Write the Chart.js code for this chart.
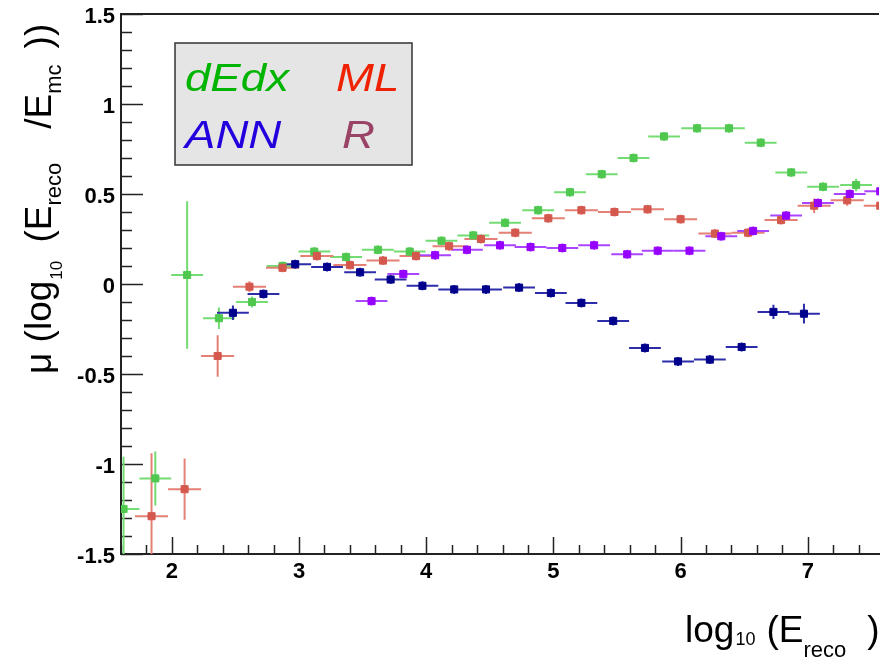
<!DOCTYPE html>
<html>
<head>
<meta charset="utf-8">
<script src="https://cdn.jsdelivr.net/npm/chart.js@4"></script>
<style>
  html, body { margin: 0; padding: 0; background: #fff; }
  canvas { display: block; }
</style>
</head>
<body>
<canvas id="muChart" width="885" height="657"></canvas>
<script>
const FONT = '"Liberation Sans", Arial, Helvetica, sans-serif';

// bin centres (log10 E_reco) and mean of log10(E_reco/E_mc) per estimator
const dedxX = [1.62, 1.87, 2.12, 2.37, 2.63, 2.87, 3.12, 3.37, 3.62, 3.87, 4.12, 4.37,
               4.62, 4.88, 5.13, 5.38, 5.63, 5.87, 6.13, 6.38, 6.63, 6.87, 7.12, 7.38];
const dedxY = [-1.25, -1.08, 0.05, -0.19, -0.10, 0.10, 0.18, 0.15, 0.19, 0.18, 0.24, 0.27,
               0.34, 0.41, 0.51, 0.61, 0.70, 0.82, 0.865, 0.865, 0.785, 0.62, 0.54, 0.55];
const dedxErr = [0.29, 0.15, 0.41, 0.06, 0.03, 0.025, 0.025, 0.025, 0.025, 0.025, 0.025, 0.025,
                 0.025, 0.025, 0.025, 0.025, 0.025, 0.025, 0.025, 0.025, 0.025, 0.025, 0.025, 0.035];

const mlX = [1.84, 2.10, 2.36, 2.61, 2.87, 3.14, 3.40, 3.66, 3.92, 4.18, 4.43, 4.70,
             4.96, 5.22, 5.48, 5.74, 6.00, 6.27, 6.53, 6.79, 7.05, 7.31, 7.57];
const mlY = [-1.29, -1.14, -0.40, -0.015, 0.09, 0.155, 0.105, 0.13, 0.155, 0.21, 0.25, 0.285,
             0.365, 0.41, 0.40, 0.415, 0.36, 0.28, 0.285, 0.355, 0.435, 0.465, 0.435];
const mlErr = [0.35, 0.17, 0.115, 0.03, 0.025, 0.025, 0.025, 0.025, 0.025, 0.025, 0.025, 0.025,
               0.025, 0.025, 0.025, 0.025, 0.025, 0.025, 0.025, 0.025, 0.04, 0.03, 0.03];

const annX = [2.48, 2.72, 2.97, 3.22, 3.48, 3.72, 3.97, 4.22, 4.47, 4.73, 4.98, 5.22,
              5.47, 5.72, 5.98, 6.23, 6.48, 6.73, 6.97];
const annY = [-0.16, -0.055, 0.11, 0.095, 0.065, 0.025, -0.01, -0.03, -0.03, -0.02, -0.05, -0.105,
              -0.205, -0.355, -0.43, -0.42, -0.35, -0.155, -0.165];
const annErr = [0.04, 0.025, 0.025, 0.025, 0.025, 0.025, 0.025, 0.025, 0.025, 0.025, 0.025, 0.025,
                0.025, 0.025, 0.025, 0.025, 0.025, 0.04, 0.055];

const rX = [3.57, 3.82, 4.07, 4.32, 4.58, 4.82, 5.07, 5.32, 5.58, 5.82, 6.07, 6.32,
            6.57, 6.83, 7.08, 7.33, 7.57];
const rY = [-0.095, 0.055, 0.16, 0.19, 0.215, 0.205, 0.20, 0.215, 0.165, 0.185, 0.185, 0.265,
            0.295, 0.38, 0.45, 0.50, 0.515];
const rErr = [0.025, 0.025, 0.025, 0.025, 0.025, 0.025, 0.025, 0.025, 0.025, 0.025, 0.025, 0.025,
              0.025, 0.025, 0.025, 0.025, 0.025];

const xTickValues = [2, 3, 4, 5, 6, 7];
const xTickLabels = ['2', '3', '4', '5', '6', '7'];
const yTickValues = [-1.5, -1, -0.5, 0, 0.5, 1, 1.5];
const yTickLabels = ['-1.5', '-1', '-0.5', '0', '0.5', '1', '1.5'];

const points = (xs, ys) => xs.map((x, i) => ({ x: x, y: ys[i] }));

function series(label, xs, ys, errs, halfWidth, marker, bar, legendColor, order) {
  return {
    label: label,
    data: points(xs, ys),
    yErr: errs,
    xErr: halfWidth,
    barColor: bar,
    legendColor: legendColor,
    backgroundColor: marker,
    borderColor: marker,
    pointStyle: "rect",
    pointRadius: 5,
    pointBorderWidth: 1,
    showLine: false,
    order: order,
  };
}

// horizontal = bin width, vertical = uncertainty on the mean
const errorBars = {
  id: "errorBars",
  beforeDatasetsDraw(chart) {
    const { ctx, chartArea: a, scales: { x, y } } = chart;
    ctx.save();
    ctx.beginPath();
    ctx.rect(a.left, a.top, a.right - a.left, a.bottom - a.top);
    ctx.clip();
    ctx.lineWidth = 2;
    chart.data.datasets.forEach((ds) => {
      ctx.strokeStyle = ds.barColor;
      ds.data.forEach((p, i) => {
        const px = x.getPixelForValue(p.x);
        const py = y.getPixelForValue(p.y);
        ctx.beginPath();
        ctx.moveTo(x.getPixelForValue(p.x - ds.xErr), py);
        ctx.lineTo(x.getPixelForValue(p.x + ds.xErr), py);
        ctx.moveTo(px, y.getPixelForValue(p.y - ds.yErr[i]));
        ctx.lineTo(px, y.getPixelForValue(p.y + ds.yErr[i]));
        ctx.stroke();
      });
    });
    ctx.restore();
  },
};

// ROOT style frame: top line plus inward major/minor ticks
const frame = {
  id: "frame",
  beforeDatasetsDraw(chart) {
    const { ctx, chartArea: a, scales: { x, y } } = chart;
    ctx.save();
    ctx.strokeStyle = "#222";
    ctx.lineWidth = 2;
    ctx.beginPath();
    ctx.moveTo(a.left, a.top);
    ctx.lineTo(a.right, a.top);
    ctx.stroke();
    ctx.lineWidth = 1.5;
    ctx.beginPath();
    for (let k = -15; k <= 15; k++) {
      const py = Math.round(y.getPixelForValue(k / 10)) + 0.5;
      const len = k % 5 === 0 ? 22 : 11;
      ctx.moveTo(a.left, py);
      ctx.lineTo(a.left + len, py);
    }
    for (let k = 8; k <= 40; k++) {
      const px = Math.round(x.getPixelForValue(k / 5)) + 0.5;
      if (px > a.right) break;
      const len = k % 5 === 0 ? 17 : 9;
      ctx.moveTo(px, a.bottom);
      ctx.lineTo(px, a.bottom - len);
    }
    ctx.stroke();
    ctx.restore();
  },
};

// draws a run of text pieces, some of them as subscripts
function richText(ctx, pieces) {
  let pos = 0;
  pieces.forEach((p) => {
    pos += p.gap || 0;
    ctx.font = p.size + "px " + FONT;
    ctx.fillText(p.t, pos, p.dy || 0);
    pos += ctx.measureText(p.t).width;
  });
}

const axisTitles = {
  id: "axisTitles",
  afterDraw(chart) {
    const ctx = chart.ctx;
    ctx.save();
    ctx.fillStyle = "#000";
    ctx.textBaseline = "alphabetic";
    ctx.textAlign = "left";

    ctx.save();
    ctx.translate(685, 642);
    richText(ctx, [
      { t: "log", size: 37 },
      { t: "10", size: 18, dy: 3, gap: 1 },
      { t: "(", size: 37, gap: 11 },
      { t: "E", size: 37 },
      { t: "reco", size: 22, dy: 15 },
      { t: ")", size: 37, gap: 21 },
    ]);
    ctx.restore();

    ctx.save();
    ctx.translate(51, 374);
    ctx.rotate(-Math.PI / 2);
    richText(ctx, [
      { t: "\u03bc (log", size: 37 },
      { t: "10", size: 17, dy: 11, gap: 1 },
      { t: " (E", size: 37, gap: 8 },
      { t: "reco", size: 22, dy: 10 },
      { t: "/E", size: 37, gap: 34 },
      { t: "mc", size: 22, dy: 10 },
      { t: "))", size: 37, gap: 16 },
    ]);
    ctx.restore();
    ctx.restore();
  },
};

// grey box with coloured italic names of the four estimators
const nameBox = {
  id: "nameBox",
  afterDraw(chart) {
    const ctx = chart.ctx;
    const box = { left: 175, top: 43, right: 412, bottom: 165 };
    ctx.save();
    ctx.fillStyle = "#e5e5e5";
    ctx.fillRect(box.left, box.top, box.right - box.left, box.bottom - box.top);
    ctx.strokeStyle = "#333";
    ctx.lineWidth = 1.5;
    ctx.strokeRect(box.left, box.top, box.right - box.left, box.bottom - box.top);
    ctx.font = "italic 38px " + FONT;
    ctx.textBaseline = "alphabetic";
    const cols = [box.left + 10, box.left + 161];
    const rows = [box.top + 48, box.top + 105];
    chart.data.datasets.forEach((ds, i) => {
      ctx.save();
      ctx.translate(cols[i % 2] + (i === 3 ? 6 : 0), rows[Math.floor(i / 2)]);
      ctx.scale(1.2, 1);
      ctx.fillStyle = ds.legendColor;
      ctx.fillText(ds.label, 0, 0);
      ctx.restore();
    });
    ctx.restore();
  },
};

new Chart(document.getElementById("muChart"), {
  type: "scatter",
  data: {
    datasets: [
      series("dEdx", dedxX, dedxY, dedxErr, 0.125, "rgb(80,200,80)", "rgb(115,220,115)", "#00b400", 3),
      series("ML", mlX, mlY, mlErr, 0.13, "rgb(212,88,78)", "rgb(228,128,118)", "#ee2200", 2),
      series("ANN", annX, annY, annErr, 0.125, "rgb(0,0,140)", "rgb(45,45,170)", "#2200dd", 1),
      series("R", rX, rY, rErr, 0.125, "rgb(150,0,255)", "rgb(170,70,255)", "#994466", 0),
    ],
  },
  options: {
    responsive: false,
    animation: false,
    layout: { padding: { top: 14, right: 0, left: 0, bottom: 0 } },
    scales: {
      x: {
        type: "linear",
        min: 1.6,
        max: 7.56,
        afterBuildTicks: (axis) => {
          axis.ticks = xTickValues.map((v) => ({ value: v }));
        },
        afterFit: (axis) => {
          axis.height = 103;
          axis.paddingLeft = 0;
          axis.paddingRight = 0;
        },
        grid: { display: false, drawTicks: false },
        border: { display: true, color: "#222", width: 2 },
        ticks: {
          callback: (v, i) => xTickLabels[i],
          color: "#000",
          padding: 5,
          maxRotation: 0,
          font: { family: FONT, size: 22, weight: "bold" },
        },
      },
      y: {
        min: -1.5,
        max: 1.5,
        afterBuildTicks: (axis) => {
          axis.ticks = yTickValues.map((v) => ({ value: v }));
        },
        afterFit: (axis) => {
          axis.width = 121;
          axis.paddingTop = 0;
          axis.paddingBottom = 0;
        },
        grid: { display: false, drawTicks: false },
        border: { display: true, color: "#222", width: 2 },
        ticks: {
          callback: (v, i) => yTickLabels[i],
          color: "#000",
          padding: 6,
          labelOffset: 3,
          font: { family: FONT, size: 22, weight: "bold" },
        },
      },
    },
    plugins: {
      legend: { display: false },
      tooltip: { enabled: false },
    },
  },
  plugins: [frame, errorBars, axisTitles, nameBox],
});
</script>
</body>
</html>
